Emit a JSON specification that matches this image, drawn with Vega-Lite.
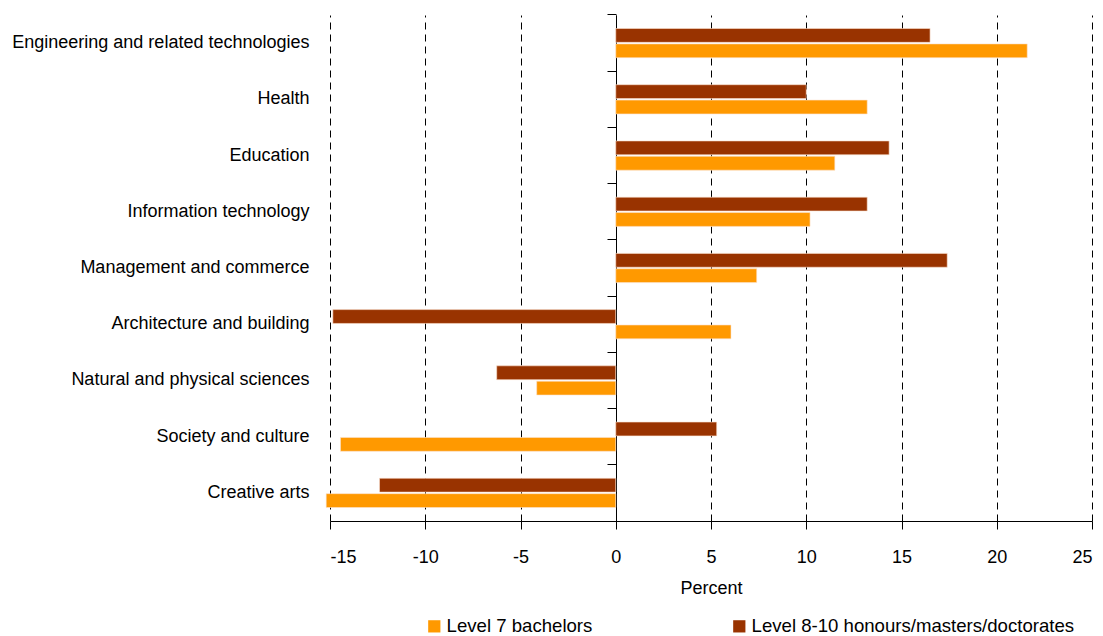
{
  "$schema": "https://vega.github.io/schema/vega-lite/v6.json",
  "width": 762,
  "height": 506,
  "autosize": {"type": "none"},
  "padding": {"left": 330, "top": 15, "right": 11, "bottom": 115},
  "background": "white",
  "config": {
    "view": {"stroke": null},
    "font": "Liberation Sans, Arial",
    "axis": {"labelColor": "#000", "titleColor": "#000", "labelFontWeight": "normal", "titleFontWeight": "normal"},
    "legend": {"labelColor": "#000"}
  },
  "data": {
    "values": [
      {"field": "Engineering and related technologies", "level": "Level 7 bachelors", "pct": 21.6},
      {"field": "Engineering and related technologies", "level": "Level 8-10 honours/masters/doctorates", "pct": 16.5},
      {"field": "Health", "level": "Level 7 bachelors", "pct": 13.2},
      {"field": "Health", "level": "Level 8-10 honours/masters/doctorates", "pct": 10.0},
      {"field": "Education", "level": "Level 7 bachelors", "pct": 11.5},
      {"field": "Education", "level": "Level 8-10 honours/masters/doctorates", "pct": 14.35},
      {"field": "Information technology", "level": "Level 7 bachelors", "pct": 10.2},
      {"field": "Information technology", "level": "Level 8-10 honours/masters/doctorates", "pct": 13.2},
      {"field": "Management and commerce", "level": "Level 7 bachelors", "pct": 7.4},
      {"field": "Management and commerce", "level": "Level 8-10 honours/masters/doctorates", "pct": 17.4},
      {"field": "Architecture and building", "level": "Level 7 bachelors", "pct": 6.05},
      {"field": "Architecture and building", "level": "Level 8-10 honours/masters/doctorates", "pct": -14.85},
      {"field": "Natural and physical sciences", "level": "Level 7 bachelors", "pct": -4.15},
      {"field": "Natural and physical sciences", "level": "Level 8-10 honours/masters/doctorates", "pct": -6.25},
      {"field": "Society and culture", "level": "Level 7 bachelors", "pct": -14.45},
      {"field": "Society and culture", "level": "Level 8-10 honours/masters/doctorates", "pct": 5.3},
      {"field": "Creative arts", "level": "Level 7 bachelors", "pct": -15.2},
      {"field": "Creative arts", "level": "Level 8-10 honours/masters/doctorates", "pct": -12.4}
    ]
  },
  "mark": {"type": "bar", "stroke": "#fbe3d0", "strokeWidth": 0.6},
  "encoding": {
    "y": {
      "field": "field",
      "type": "nominal",
      "sort": null,
      "scale": {"paddingInner": 0.48, "paddingOuter": 0.24},
      "axis": {
        "title": null,
        "orient": "left",
        "offset": -286,
        "domain": true,
        "domainColor": "#000",
        "domainWidth": 1,
        "ticks": true,
        "tickColor": "#000",
        "tickSize": 9,
        "bandPosition": -0.462,
        "labelPadding": 298,
        "labelFontSize": 18,
        "labelLimit": 400,
        "grid": false
      }
    },
    "yOffset": {
      "field": "level",
      "type": "nominal",
      "sort": ["Level 8-10 honours/masters/doctorates", "Level 7 bachelors"],
      "scale": {"paddingInner": 0.1}
    },
    "x": {
      "field": "pct",
      "type": "quantitative",
      "scale": {"domain": [-15, 25], "nice": false, "zero": false},
      "axis": {
        "title": "Percent",
        "titleFontSize": 18,
        "titlePadding": 13,
        "values": [-15, -10, -5, 0, 5, 10, 15, 20, 25],
        "labelExpr": "'' + datum.value",
        "labelFontSize": 18,
        "labelPadding": 19,
        "domainColor": "#000",
        "tickColor": "#000",
        "tickSize": 8,
        "grid": true,
        "gridColor": "#000",
        "gridDash": [7, 5],
        "gridWidth": 1
      }
    },
    "color": {
      "field": "level",
      "type": "nominal",
      "sort": ["Level 7 bachelors", "Level 8-10 honours/masters/doctorates"],
      "scale": {"domain": ["Level 7 bachelors", "Level 8-10 honours/masters/doctorates"], "range": ["#ff9900", "#993300"]},
      "legend": {
        "title": null,
        "orient": "none",
        "legendX": 95,
        "legendY": 602,
        "direction": "horizontal",
        "symbolType": "square",
        "symbolSize": 150,
        "symbolStrokeWidth": 0,
        "labelFontSize": 18.6,
        "labelLimit": 600,
        "labelOffset": 3,
        "columnPadding": 137
      }
    }
  }
}
